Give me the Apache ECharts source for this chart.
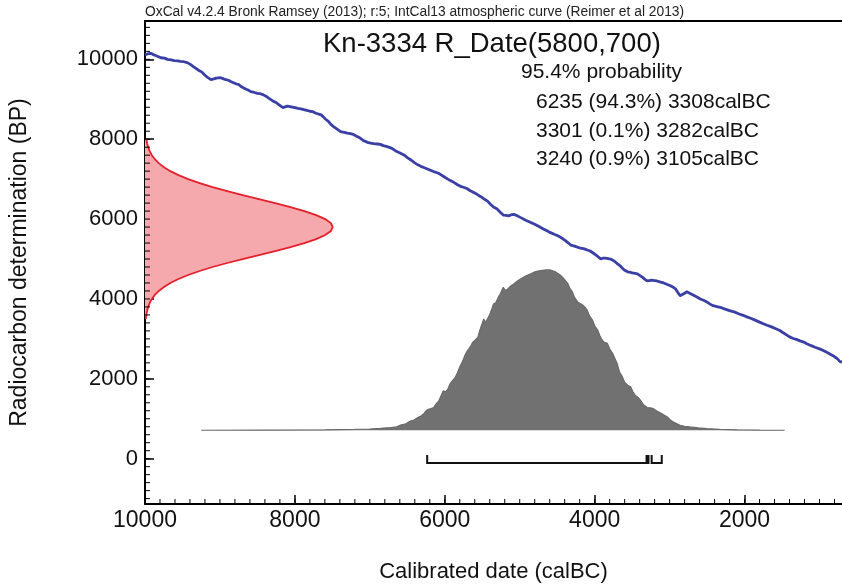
<!DOCTYPE html>
<html>
<head>
<meta charset="utf-8">
<script src="https://cdn.jsdelivr.net/npm/echarts@6/dist/echarts.min.js"></script>
<style>
  html, body { margin: 0; padding: 0; background: #fff; }
  #chart { width: 842px; height: 588px; }
</style>
</head>
<body>
<div id="chart"></div>
<script>
// IntCal13 atmospheric curve: [calibrated date calBC, radiocarbon age BP]
const curvePoints = [
  [10000,10110],[9960,10140],[9920,10150],[9880,10110],[9850,10090],[9790,10040],[9740,10030],
  [9700,10000],[9650,9985],[9610,9970],[9560,9960],[9530,9950],[9480,9940],[9440,9920],
  [9400,9880],[9350,9810],[9280,9720],[9240,9680],[9210,9620],[9160,9540],[9120,9490],
  [9080,9510],[9050,9530],[8990,9540],[8950,9510],[8920,9490],[8880,9470],[8850,9440],
  [8780,9380],[8750,9370],[8720,9320],[8650,9250],[8620,9230],[8590,9190],[8540,9170],
  [8500,9150],[8460,9140],[8420,9110],[8380,9070],[8350,9030],[8280,8940],[8250,8920],
  [8220,8870],[8160,8790],[8130,8810],[8100,8830],[8050,8810],[8000,8790],[7960,8770],
  [7920,8760],[7880,8740],[7840,8720],[7800,8700],[7760,8690],[7720,8650],[7650,8610],
  [7620,8560],[7590,8500],[7550,8440],[7520,8370],[7480,8310],[7450,8270],[7390,8190],
  [7340,8170],[7300,8150],[7260,8140],[7220,8120],[7170,8070],[7130,8030],[7080,7960],
  [7030,7920],[6990,7900],[6950,7890],[6900,7880],[6860,7870],[6820,7840],[6780,7820],
  [6730,7790],[6680,7740],[6640,7690],[6590,7650],[6540,7600],[6500,7540],[6450,7480],
  [6410,7420],[6370,7370],[6320,7320],[6280,7290],[6240,7260],[6200,7230],[6150,7190],
  [6100,7160],[6060,7120],[6010,7060],[5960,7000],[5920,6960],[5880,6920],[5830,6860],
  [5790,6820],[5740,6790],[5700,6760],[5660,6710],[5620,6670],[5570,6620],[5520,6560],
  [5480,6510],[5430,6450],[5390,6370],[5350,6300],[5300,6250],[5260,6170],[5220,6100],
  [5180,6090],[5150,6080],[5110,6110],[5080,6120],[5030,6080],[4980,6030],[4920,5970],
  [4860,5920],[4800,5870],[4750,5820],[4690,5760],[4630,5700],[4590,5660],[4540,5620],
  [4500,5590],[4460,5550],[4420,5500],[4390,5460],[4350,5400],[4320,5350],[4280,5330],
  [4250,5310],[4190,5270],[4150,5260],[4120,5240],[4090,5220],[4060,5200],[4020,5150],
  [3990,5110],[3950,5050],[3920,5000],[3890,5020],[3860,5020],[3820,5010],[3790,5000],
  [3750,4960],[3720,4920],[3690,4870],[3660,4830],[3630,4770],[3600,4720],[3560,4680],
  [3530,4670],[3500,4650],[3460,4640],[3430,4630],[3400,4590],[3360,4540],[3330,4490],
  [3300,4450],[3270,4460],[3240,4470],[3200,4460],[3170,4450],[3120,4420],[3080,4400],
  [3030,4360],[2990,4330],[2950,4290],[2920,4250],[2890,4160],[2860,4080],[2830,4110],
  [2800,4140],[2770,4180],[2720,4130],[2680,4090],[2630,4040],[2590,4000],[2540,3960],
  [2500,3920],[2460,3870],[2420,3830],[2370,3810],[2310,3780],[2250,3740],[2190,3700],
  [2130,3670],[2080,3630],[2020,3590],[1970,3550],[1910,3510],[1860,3470],[1800,3420],
  [1750,3380],[1700,3340],[1640,3300],[1590,3260],[1530,3210],[1490,3160],[1440,3100],
  [1400,3050],[1350,3010],[1300,2980],[1260,2950],[1210,2920],[1170,2880],[1110,2830],
  [1060,2790],[1000,2750],[950,2710],[910,2670],[880,2640],[850,2610],[820,2580],
  [790,2540],[760,2500],[740,2460],[727,2430],[700,2420]
];

// R_Date(5800,700): radiocarbon age BP and relative likelihood
const measureBP = [3500,3600,3700,3800,3900,4000,4100,4200,4300,4400,4500,4600,4700,4800,4900,
  5000,5100,5200,5300,5400,5500,5600,5700,5800,5900,6000,6100,6200,6300,6400,6500,6600,6700,
  6800,6900,7000,7100,7200,7300,7400,7500,7600,7700,7800,7900,8000];
const measureDensity = [0.0045,0.0072,0.0111,0.0169,0.0251,0.0367,0.0524,0.0734,0.101,0.135,
  0.178,0.230,0.291,0.360,0.438,0.520,0.607,0.693,0.775,0.849,0.912,0.960,0.990,1.0,0.990,
  0.960,0.912,0.849,0.775,0.693,0.607,0.520,0.438,0.360,0.291,0.230,0.178,0.135,0.101,
  0.0734,0.0524,0.0367,0.0251,0.0169,0.0111,0.0072];

// Calibrated probability distribution: [calBC, relative probability]
const calibrated = [
  [9250,0],[8400,0.001],[7600,0.003],[7200,0.005],[7000,0.008],[6860,0.012],[6720,0.017],
  [6640,0.022],[6590,0.033],[6520,0.040],[6460,0.058],[6410,0.064],[6360,0.079],[6320,0.088],
  [6280,0.104],[6250,0.121],[6220,0.131],[6180,0.136],[6150,0.142],[6110,0.168],[6080,0.183],
  [6050,0.215],[6020,0.246],[5990,0.240],[5960,0.256],[5930,0.290],[5900,0.308],[5860,0.330],
  [5830,0.360],[5800,0.395],[5760,0.433],[5730,0.470],[5700,0.496],[5660,0.520],[5630,0.548],
  [5600,0.560],[5560,0.579],[5540,0.612],[5520,0.642],[5500,0.668],[5480,0.694],[5455,0.672],
  [5430,0.683],[5410,0.712],[5390,0.735],[5370,0.760],[5350,0.788],[5320,0.796],[5300,0.808],
  [5280,0.836],[5260,0.850],[5240,0.872],[5220,0.892],[5190,0.872],[5160,0.881],[5120,0.900],
  [5080,0.913],[5040,0.928],[4990,0.944],[4930,0.960],[4860,0.975],[4790,0.990],[4720,0.996],
  [4650,1.0],[4590,1.0],[4530,0.990],[4460,0.969],[4410,0.945],[4360,0.917],[4330,0.885],
  [4300,0.865],[4270,0.830],[4230,0.802],[4200,0.792],[4160,0.781],[4130,0.768],[4100,0.750],
  [4070,0.715],[4030,0.688],[4000,0.652],[3960,0.625],[3930,0.590],[3900,0.563],[3870,0.548],
  [3830,0.542],[3800,0.508],[3760,0.479],[3730,0.448],[3700,0.417],[3670,0.365],[3630,0.333],
  [3600,0.300],[3560,0.281],[3540,0.292],[3520,0.271],[3490,0.240],[3460,0.219],[3420,0.205],
  [3390,0.188],[3350,0.160],[3300,0.142],[3260,0.140],[3220,0.135],[3170,0.120],[3120,0.108],
  [3080,0.096],[3030,0.083],[2990,0.064],[2950,0.052],[2900,0.040],[2860,0.031],[2800,0.025],
  [2730,0.021],[2620,0.015],[2500,0.010],[2330,0.006],[2100,0.003],[1800,0.001],[1465,0]
];

// 95.4% ranges, calBC: [from, to]
const ranges = [[6235,3308],[3301,3282],[3240,3105]];

const xMajorTicks = [10000,8000,6000,4000,2000];
const yMajorTicks = [0,2000,4000,6000,8000,10000];
const xMinorTicks = [];
for (let v = 10000; v >= 800; v -= 200) xMinorTicks.push(v);
const yMinorTicks = [];
for (let v = -1000; v <= 10800; v += 200) yMinorTicks.push(v);

const titleText = 'Kn-3334 R_Date(5800,700)';
const summaryLines = ['95.4% probability', '6235 (94.3%) 3308calBC', '3301 (0.1%) 3282calBC', '3240 (0.9%) 3105calBC'];
const captionText = 'OxCal v4.2.4 Bronk Ramsey (2013); r:5; IntCal13 atmospheric curve (Reimer et al 2013)';

const FONT = '"Liberation Sans", Arial, Helvetica, sans-serif';
const BRACKET_LEVEL = -110;
const MINOR_TICK = 5;

const chart = echarts.init(document.getElementById('chart'), null, { renderer: 'canvas' });

const xRange = { min: 700, max: 10000, inverse: true };
const yRange = { min: -1135, max: 10960 };
const plain = v => String(v);

function textEl(x, y, text, size) {
  return { type: 'text', x: x, y: y, style: { text: text, fontFamily: FONT, fontSize: size, fill: '#111', verticalAlign: 'middle', align: 'left' } };
}

const option = {
  animation: false,
  backgroundColor: '#ffffff',
  grid: { left: 144, right: 0, top: 21, bottom: 82, containLabel: false },
  xAxis: [
    {
      type: 'value', position: 'bottom', ...xRange,
      name: 'Calibrated date (calBC)', nameLocation: 'middle', nameGap: 57,
      nameTextStyle: { fontFamily: FONT, fontSize: 22, color: '#111' },
      axisLine: { show: true, onZero: false, lineStyle: { color: '#000', width: 2 } },
      axisTick: { show: true, inside: true, length: 9, customValues: xMajorTicks, lineStyle: { color: '#000', width: 1.5 } },
      axisLabel: { show: true, customValues: xMajorTicks, formatter: plain, margin: 5, fontFamily: FONT, fontSize: 23, color: '#111' },
      splitLine: { show: false }
    },
    {
      type: 'value', position: 'top', ...xRange,
      axisLine: { show: true, onZero: false, lineStyle: { color: '#000', width: 2 } },
      axisTick: { show: false }, axisLabel: { show: false }, splitLine: { show: false }
    },
    {
      type: 'value', show: false, min: 0, max: 3.713,
      axisLine: { onZero: false }, splitLine: { show: false }
    }
  ],
  yAxis: [
    {
      type: 'value', position: 'left', ...yRange,
      name: 'Radiocarbon determination (BP)', nameLocation: 'middle', nameGap: 114, nameRotate: 90,
      nameTextStyle: { fontFamily: FONT, fontSize: 23, color: '#111' },
      axisLine: { show: true, onZero: false, lineStyle: { color: '#000', width: 2 } },
      axisTick: { show: true, inside: true, length: 9, customValues: yMajorTicks, lineStyle: { color: '#000', width: 1.5 } },
      axisLabel: { show: true, customValues: yMajorTicks, formatter: plain, margin: 7, fontFamily: FONT, fontSize: 22, color: '#111' },
      splitLine: { show: false }
    },
    {
      type: 'value', show: false, min: -0.46, max: 2.553,
      axisLine: { onZero: false }, splitLine: { show: false }
    }
  ],
  graphic: [
    { type: 'text', x: 145, y: 12, style: { text: captionText, fontFamily: FONT, fontSize: 13.8, fill: '#222', verticalAlign: 'middle', align: 'left' } },
    textEl(323, 44, titleText, 27.5),
    textEl(521, 72, summaryLines[0], 21),
    textEl(536, 102, summaryLines[1], 21),
    textEl(536, 131, summaryLines[2], 21),
    textEl(536, 159, summaryLines[3], 21)
  ],
  series: [
    {
      // measured radiocarbon likelihood drawn sideways against the BP axis
      type: 'custom', xAxisIndex: 2, yAxisIndex: 0, z: 2, silent: true,
      data: measureBP.map((bp, i) => [measureDensity[i], bp]),
      renderItem: function (params, api) {
        if (params.dataIndex !== 0) return null;
        const pts = measureBP.map((bp, i) => api.coord([measureDensity[i], bp]));
        const first = api.coord([0, measureBP[0]]);
        const last = api.coord([0, measureBP[measureBP.length - 1]]);
        return {
          type: 'group',
          children: [
            { type: 'polygon', shape: { points: [first].concat(pts, [last]) }, style: { fill: '#f5a9ad', stroke: null } },
            { type: 'polyline', shape: { points: pts }, style: { stroke: '#e4202b', lineWidth: 1.8, fill: null } }
          ]
        };
      }
    },
    {
      // calibrated distribution
      type: 'line', xAxisIndex: 0, yAxisIndex: 1, z: 3, silent: true,
      data: calibrated, showSymbol: false, symbol: 'none',
      lineStyle: { color: '#6a6a6a', width: 1.2 },
      areaStyle: { color: '#717171', opacity: 1 }
    },
    {
      // calibration curve
      type: 'line', xAxisIndex: 0, yAxisIndex: 0, z: 4, silent: true,
      data: curvePoints, showSymbol: false, symbol: 'none',
      lineStyle: { color: '#3a3fa6', width: 2.8 }
    },
    {
      // 95.4% range brackets
      type: 'custom', xAxisIndex: 0, yAxisIndex: 0, z: 5, silent: true,
      data: ranges.map(r => [r[0], r[1], BRACKET_LEVEL]),
      encode: { x: [0, 1], y: 2 },
      renderItem: function (params, api) {
        const a = api.coord([api.value(0), api.value(2)]);
        const b = api.coord([api.value(1), api.value(2)]);
        return {
          type: 'polyline',
          shape: { points: [[a[0], a[1] - 8], a, b, [b[0], b[1] - 8]] },
          style: { stroke: '#111', lineWidth: 2, fill: null }
        };
      }
    },
    {
      // minor ticks on both axes, placed through the axis scales
      type: 'custom', xAxisIndex: 0, yAxisIndex: 0, z: 10, silent: true, clip: false,
      data: [[xRange.max, yRange.min]],
      renderItem: function (params, api) {
        const lines = [];
        xMinorTicks.forEach(function (v) {
          const p = api.coord([v, yRange.min]);
          lines.push({ type: 'line', shape: { x1: p[0], y1: p[1], x2: p[0], y2: p[1] - MINOR_TICK }, style: { stroke: '#000', lineWidth: 1 } });
        });
        yMinorTicks.forEach(function (v) {
          const p = api.coord([xRange.max, v]);
          lines.push({ type: 'line', shape: { x1: p[0], y1: p[1], x2: p[0] + MINOR_TICK, y2: p[1] }, style: { stroke: '#000', lineWidth: 1 } });
        });
        return { type: 'group', children: lines };
      }
    }
  ]
};

chart.setOption(option);
</script>
</body>
</html>
